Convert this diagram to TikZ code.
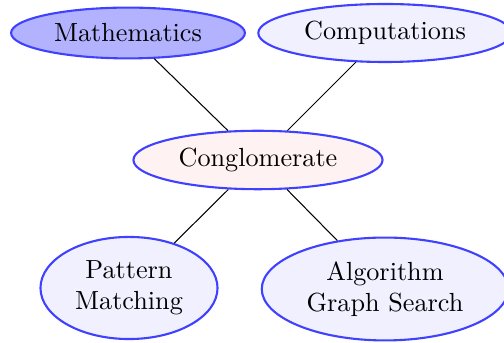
\documentclass[tikz,border=0pt]{standalone}
\usetikzlibrary{shapes.geometric}
\tikzset{
  topic/.style={ellipse, draw=blue!75, thick, align=center},
  link/.style={draw=black}
}
\begin{document}
\begin{tikzpicture}[x=0.3817pt, y=-0.3817pt]
\useasboundingbox (0,0) rectangle (504,343);
\node[topic, fill=blue!30] (math) at (128,33) {Mathematics};
\node[topic, fill=blue!6] (comp) at (385,33) {Computations};
\node[topic, fill=red!5] (cong) at (258,160) {Conglomerate};
\node[topic, fill=blue!6] (pat) at (129,288) {Pattern\\Matching};
\node[topic, fill=blue!6] (alg) at (385,289) {Algorithm\\Graph Search};
\draw[link] (math) -- (cong);
\draw[link] (comp) -- (cong);
\draw[link] (cong) -- (pat);
\draw[link] (cong) -- (alg);
\end{tikzpicture}
\end{document}
